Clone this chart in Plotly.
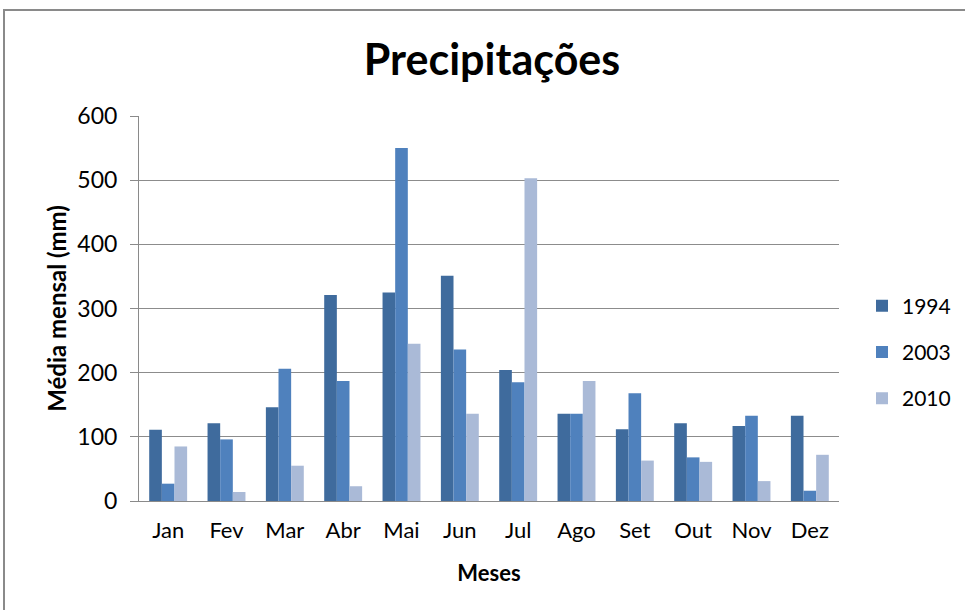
import plotly.graph_objects as go

# Monthly mean precipitation (mm) per year
months = ["Jan", "Fev", "Mar", "Abr", "Mai", "Jun", "Jul", "Ago", "Set", "Out", "Nov", "Dez"]
years = ["1994", "2003", "2010"]
p1994 = [111, 121, 146, 321, 325, 351, 204, 136, 112, 121, 117, 133]
p2003 = [27, 96, 206, 187, 550, 236, 185, 136, 168, 68, 133, 16]
p2010 = [85, 14, 55, 23, 245, 136, 503, 187, 63, 61, 31, 72]
y_ticks = [0, 100, 200, 300, 400, 500, 600]

series = [p1994, p2003, p2010]
colors = ["#3F6B9D", "#4F81BD", "#AABAD7"]

W, H = 965, 610
L, R, T, B = 139, 126, 116, 109
pw, ph = W - L - R, H - T - B

FONT = "Lato"

fig = go.Figure()
for name, vals, col in zip(years, series, colors):
    fig.add_trace(go.Bar(
        x=months, y=vals, name=name, legendgroup=name,
        marker=dict(color=col, line=dict(width=0)),
    ))

def px_x(px):
    return (px - L) / pw

def px_y(py):
    return (H - B - py) / ph

# outer chart frame
fig.add_shape(type="rect", xref="paper", yref="paper",
              x0=px_x(4), x1=px_x(W + 20), y0=px_y(W), y1=px_y(10),
              line=dict(color="#8A8A8A", width=2), fillcolor="rgba(0,0,0,0)",
              layer="below")

fig.update_layout(
    width=W, height=H,
    margin=dict(l=L, r=R, t=T, b=B, autoexpand=False),
    paper_bgcolor="white", plot_bgcolor="white",
    barmode="group", bargap=0.35, bargroupgap=0,
    title=dict(text="<b>Precipitações</b>", x=px_x(492), xref="paper", xanchor="center",
               y=1 - 60 / H, yanchor="middle",
               font=dict(family=FONT, size=43, color="black")),
    font=dict(family=FONT, color="black"),
    xaxis=dict(
        showline=True, linecolor="#8A8A8A", linewidth=1,
        ticks="", tickfont=dict(size=22, color="black"), ticklabelstandoff=10,
        title=dict(text="<b>Meses</b>", font=dict(size=22, color="black"), standoff=23),
    ),
    yaxis=dict(
        range=[0, 600], tickvals=y_ticks, showgrid=True,
        gridcolor="#8C8C8C", gridwidth=1,
        showline=True, linecolor="#8A8A8A", linewidth=1,
        ticks="outside", ticklen=8, tickcolor="#8A8A8A",
        tickfont=dict(size=23, color="black"), ticklabelstandoff=8,
        zeroline=False,
        title=dict(text="<b>Média mensal (mm)</b>", font=dict(size=24, color="black"), standoff=3),
    ),
    legend=dict(
        x=px_x(862), y=px_y(352), xanchor="left", yanchor="middle",
        font=dict(size=21, color="black"), tracegroupgap=16,
        itemwidth=30, bgcolor="rgba(0,0,0,0)",
    ),
)

fig.write_html("out.html")
